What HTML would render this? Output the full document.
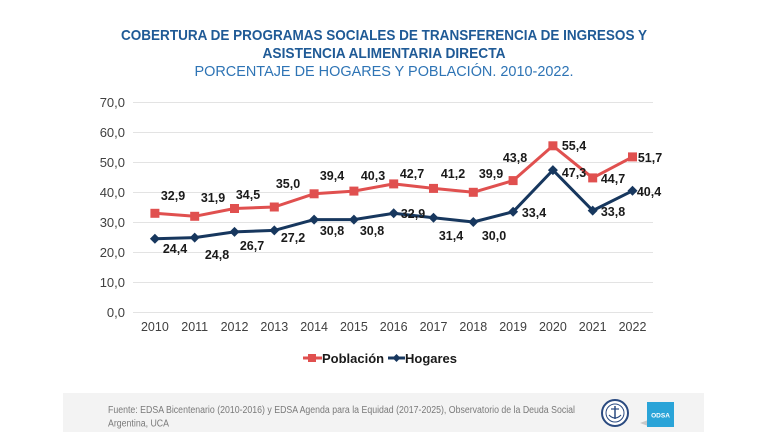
<!DOCTYPE html>
<html>
<head>
<meta charset="utf-8">
<style>
html,body{margin:0;padding:0;background:#fff;}
body{width:768px;height:432px;overflow:hidden;}
svg{display:block;}
text{font-family:"Liberation Sans",Arial,sans-serif;}
</style>
</head>
<body>
<svg width="768" height="432" viewBox="0 0 768 432" xmlns="http://www.w3.org/2000/svg">
<rect width="768" height="432" fill="#ffffff"/>
<!-- Titles -->
<text x="384" y="40" text-anchor="middle" font-size="15" font-weight="bold" fill="#1f5a96" textLength="526" lengthAdjust="spacingAndGlyphs">COBERTURA DE PROGRAMAS SOCIALES DE TRANSFERENCIA DE INGRESOS Y</text>
<text x="384" y="58" text-anchor="middle" font-size="15" font-weight="bold" fill="#1f5a96" textLength="243" lengthAdjust="spacingAndGlyphs">ASISTENCIA ALIMENTARIA DIRECTA</text>
<text x="384" y="76" text-anchor="middle" font-size="15" fill="#2e74b5" textLength="379" lengthAdjust="spacingAndGlyphs">PORCENTAJE DE HOGARES Y POBLACIÓN. 2010-2022.</text>

<!-- Gridlines -->
<g stroke="#e3e3e3" stroke-width="1">
<line x1="133" x2="653" y1="102.5" y2="102.5"/>
<line x1="133" x2="653" y1="132.5" y2="132.5"/>
<line x1="133" x2="653" y1="162.5" y2="162.5"/>
<line x1="133" x2="653" y1="192.5" y2="192.5"/>
<line x1="133" x2="653" y1="222.5" y2="222.5"/>
<line x1="133" x2="653" y1="252.5" y2="252.5"/>
<line x1="133" x2="653" y1="282.5" y2="282.5"/>
<line x1="133" x2="653" y1="312.5" y2="312.5"/>
</g>

<!-- Y labels -->
<g font-size="13" fill="#404040" text-anchor="end">
<text x="125" y="107">70,0</text>
<text x="125" y="137">60,0</text>
<text x="125" y="167">50,0</text>
<text x="125" y="197">40,0</text>
<text x="125" y="227">30,0</text>
<text x="125" y="257">20,0</text>
<text x="125" y="287">10,0</text>
<text x="125" y="317">0,0</text>
</g>

<!-- X labels -->
<g font-size="12.5" fill="#404040" text-anchor="middle">
<text x="154.9" y="331">2010</text>
<text x="194.7" y="331">2011</text>
<text x="234.5" y="331">2012</text>
<text x="274.3" y="331">2013</text>
<text x="314.1" y="331">2014</text>
<text x="353.9" y="331">2015</text>
<text x="393.7" y="331">2016</text>
<text x="433.5" y="331">2017</text>
<text x="473.3" y="331">2018</text>
<text x="513.1" y="331">2019</text>
<text x="552.9" y="331">2020</text>
<text x="592.7" y="331">2021</text>
<text x="632.5" y="331">2022</text>
</g>

<!-- Población line -->
<polyline fill="none" stroke="#e0504f" stroke-width="3" stroke-linejoin="round"
points="154.9,213.3 194.7,216.3 234.5,208.5 274.3,207 314.1,193.8 353.9,191.1 393.7,183.9 433.5,188.4 473.3,192.3 513.1,180.6 552.9,145.8 592.7,177.9 632.5,156.9"/>
<g fill="#e0504f">
<rect x="150.4" y="208.8" width="9" height="9"/>
<rect x="190.2" y="211.8" width="9" height="9"/>
<rect x="230" y="204" width="9" height="9"/>
<rect x="269.8" y="202.5" width="9" height="9"/>
<rect x="309.6" y="189.3" width="9" height="9"/>
<rect x="349.4" y="186.6" width="9" height="9"/>
<rect x="389.2" y="179.4" width="9" height="9"/>
<rect x="429" y="183.9" width="9" height="9"/>
<rect x="468.8" y="187.8" width="9" height="9"/>
<rect x="508.6" y="176.1" width="9" height="9"/>
<rect x="548.4" y="141.3" width="9" height="9"/>
<rect x="588.2" y="173.4" width="9" height="9"/>
<rect x="628" y="152.4" width="9" height="9"/>
</g>

<!-- Hogares line -->
<polyline fill="none" stroke="#17375e" stroke-width="3" stroke-linejoin="round"
points="154.9,238.8 194.7,237.6 234.5,231.9 274.3,230.4 314.1,219.6 353.9,219.6 393.7,213.3 433.5,217.8 473.3,222 513.1,211.8 552.9,170.1 592.7,210.6 632.5,190.8"/>
<g fill="#17375e">
<path d="M154.9,233.8 l5,5 l-5,5 l-5,-5z"/>
<path d="M194.7,232.6 l5,5 l-5,5 l-5,-5z"/>
<path d="M234.5,226.9 l5,5 l-5,5 l-5,-5z"/>
<path d="M274.3,225.4 l5,5 l-5,5 l-5,-5z"/>
<path d="M314.1,214.6 l5,5 l-5,5 l-5,-5z"/>
<path d="M353.9,214.6 l5,5 l-5,5 l-5,-5z"/>
<path d="M393.7,208.3 l5,5 l-5,5 l-5,-5z"/>
<path d="M433.5,212.8 l5,5 l-5,5 l-5,-5z"/>
<path d="M473.3,217 l5,5 l-5,5 l-5,-5z"/>
<path d="M513.1,206.8 l5,5 l-5,5 l-5,-5z"/>
<path d="M552.9,165.1 l5,5 l-5,5 l-5,-5z"/>
<path d="M592.7,205.6 l5,5 l-5,5 l-5,-5z"/>
<path d="M632.5,185.8 l5,5 l-5,5 l-5,-5z"/>
</g>

<!-- Población labels -->
<g font-size="12.5" font-weight="bold" fill="#1a1a1a" text-anchor="middle">
<text x="173" y="200">32,9</text>
<text x="213" y="202">31,9</text>
<text x="248" y="199">34,5</text>
<text x="288" y="188">35,0</text>
<text x="332" y="180">39,4</text>
<text x="373" y="180">40,3</text>
<text x="412" y="178">42,7</text>
<text x="453" y="178">41,2</text>
<text x="491" y="178">39,9</text>
<text x="515" y="162">43,8</text>
<text x="574" y="150">55,4</text>
<text x="613" y="183">44,7</text>
<text x="650" y="162">51,7</text>
</g>

<!-- Hogares labels -->
<g font-size="12.5" font-weight="bold" fill="#1a1a1a" text-anchor="middle">
<text x="175" y="253">24,4</text>
<text x="217" y="259">24,8</text>
<text x="252" y="250">26,7</text>
<text x="293" y="242">27,2</text>
<text x="332" y="235">30,8</text>
<text x="372" y="235">30,8</text>
<text x="413" y="218">32,9</text>
<text x="451" y="240">31,4</text>
<text x="494" y="240">30,0</text>
<text x="534" y="217">33,4</text>
<text x="574" y="177">47,3</text>
<text x="613" y="216">33,8</text>
<text x="649" y="196">40,4</text>
</g>

<!-- Legend -->
<line x1="303" x2="322" y1="358" y2="358" stroke="#e0504f" stroke-width="3"/>
<rect x="308" y="354" width="8" height="8" fill="#e0504f"/>
<text x="322" y="363" font-size="13" font-weight="bold" fill="#1a1a1a">Población</text>
<line x1="388" x2="405" y1="358" y2="358" stroke="#17375e" stroke-width="3"/>
<path d="M396.5,354 l4,4 l-4,4 l-4,-4z" fill="#17375e"/>
<text x="405" y="363" font-size="13" font-weight="bold" fill="#1a1a1a">Hogares</text>

<!-- Footer -->
<rect x="63" y="393" width="641" height="39" fill="#f3f3f3"/>
<text x="108" y="413" font-size="10" fill="#7a7a7a" textLength="467" lengthAdjust="spacingAndGlyphs">Fuente: EDSA Bicentenario (2010-2016) y EDSA Agenda para la Equidad (2017-2025), Observatorio de la Deuda Social</text>
<text x="108" y="426.5" font-size="10" fill="#7a7a7a" textLength="61" lengthAdjust="spacingAndGlyphs">Argentina, UCA</text>

<!-- Logo circle -->
<circle cx="615" cy="413" r="13" fill="#ffffff" stroke="#2a4a80" stroke-width="2"/>
<circle cx="615" cy="413" r="9" fill="none" stroke="#2a4a80" stroke-width="1"/>
<line x1="615" y1="406" x2="615" y2="419" stroke="#2a4a80" stroke-width="1.5"/>
<line x1="611" y1="409" x2="619" y2="409" stroke="#2a4a80" stroke-width="1.2"/>
<path d="M609,415 q6,6 12,0" fill="none" stroke="#2a4a80" stroke-width="1.2"/>

<!-- ODSA box -->
<path d="M640,423 l8,-3 l0,6 z" fill="#c8c8c8"/>
<rect x="647" y="402" width="27" height="25" fill="#2aa4d8"/>
<text x="660.5" y="417.5" font-size="6.5" font-weight="bold" fill="#ffffff" text-anchor="middle">ODSA</text>
</svg>
</body>
</html>
